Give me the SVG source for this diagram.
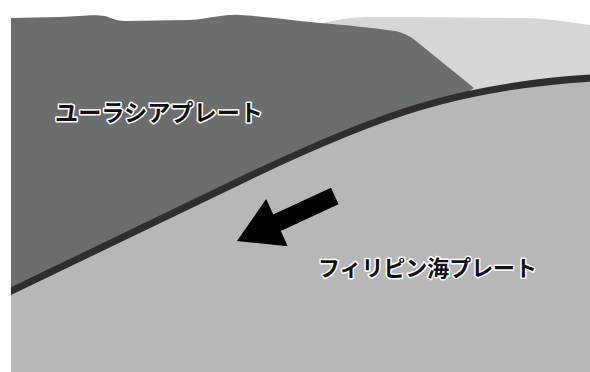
<svg xmlns="http://www.w3.org/2000/svg" width="590" height="372" viewBox="0 0 590 372">
  <style>
    .label { font-family: "Noto Sans CJK JP", "Noto Sans", sans-serif; font-weight: 700; fill: #111; stroke: #fff; stroke-width: 3; stroke-linejoin: round; paint-order: stroke; }
  </style>
  <defs>
    <!-- the section is cut off cleanly at its left edge -->
    <clipPath id="section">
      <rect x="11" y="0" width="579" height="372"/>
    </clipPath>
  </defs>
  <rect width="590" height="372" fill="#fff"/>

  <g clip-path="url(#section)">
    <!-- far plate behind the ridge -->
    <g id="back-plate">
      <path d="M 320,24 C 340,19 350,17 380,17 C 440,17 500,18 520,18 C 545,18 560,21 590,25 L 590,200 L 320,200 Z" fill="#d6d6d6"/>
    </g>

    <!-- Eurasian plate (upper block) -->
    <g id="eurasian-plate">
      <path d="M 11,18 L 60,17 C 80,16 95,14 105,16 C 112,18 116,21 125,21 L 190,20 C 210,19 222,14 240,15 C 260,16 290,20 320,23 C 345,25 375,28 395,31 C 404,33 410,36 416,41 L 474,88 L 11,372 Z" fill="#6c6d6d"/>
      <text class="label" x="55" y="121" font-size="23" textLength="208" lengthAdjust="spacingAndGlyphs">ユーラシアプレート</text>
    </g>

    <!-- Philippine Sea plate (lower block) -->
    <g id="philippine-sea-plate">
      <path d="M 5,294 L 250,176 C 380,114 460,86 592,78 L 592,372 L 5,372 Z" fill="#b6b7b6"/>
      <text class="label" x="318" y="276" font-size="22" textLength="219" lengthAdjust="spacingAndGlyphs">フィリピン海プレート</text>
    </g>

    <!-- plate boundary and motion arrow -->
    <g id="connectors">
      <path d="M 5,294 L 250,176 C 380,114 460,86 592,78" fill="none" stroke="#2f2e2d" stroke-width="7"/>
      <polygon points="237,241 266.2,199.1 273.2,214.5 331,187.8 338.5,204.2 280.8,230.9 287.8,246.3" fill="#000"/>
    </g>
  </g>
</svg>
